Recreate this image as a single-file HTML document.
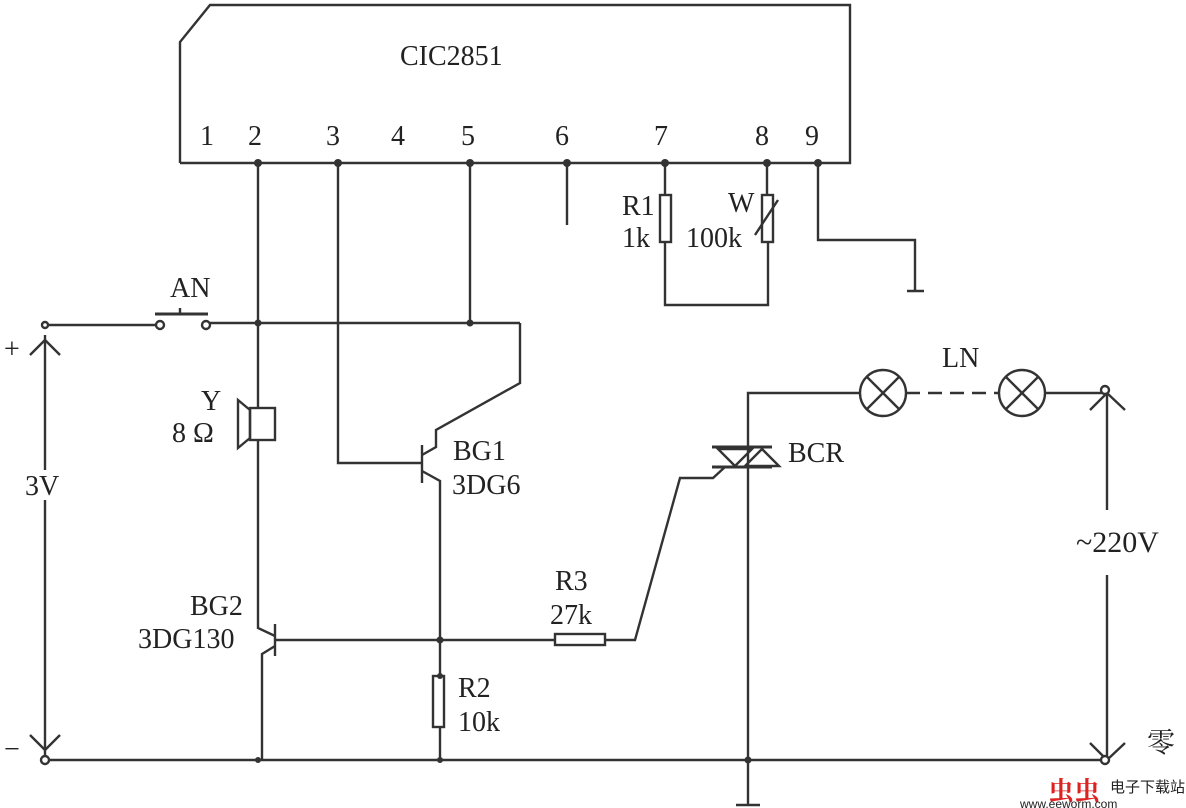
<!DOCTYPE html>
<html><head><style>html,body{margin:0;padding:0;background:#fff}svg{display:block}text{font-family:"Liberation Serif","Noto Serif CJK SC",serif;fill:#222}</style></head>
<body>
<svg width="1186" height="808" viewBox="0 0 1186 808" xmlns="http://www.w3.org/2000/svg">
<g stroke="#333" stroke-width="2.4" fill="none">
<polyline points="180,163 180,42 210,5 850,5 850,163 180,163"/>
<line x1="258" y1="163" x2="258" y2="408"/>
<line x1="258" y1="440" x2="258" y2="625"/>
<polyline points="258,625 258,628 275,636"/>
<polyline points="275,646 262,654 262,760"/>
<line x1="275" y1="624" x2="275" y2="656"/>
<polyline points="338,163 338,463 422,463"/>
<line x1="422" y1="445" x2="422" y2="483"/>
<polyline points="422,455 436,447 436,430 520,383 520,323"/>
<polyline points="422,471 440,481 440,676"/>
<line x1="470" y1="163" x2="470" y2="323"/>
<line x1="567" y1="163" x2="567" y2="225"/>
<line x1="665" y1="163" x2="665" y2="195"/>
<rect x="660" y="195" width="11" height="47"/>
<polyline points="665,242 665,305 768,305 768,242"/>
<line x1="767" y1="163" x2="767" y2="195"/>
<rect x="762" y="195" width="11" height="47"/>
<line x1="755" y1="235" x2="778" y2="200"/>
<polyline points="818,163 818,240 915,240 915,290"/>
<line x1="907" y1="291" x2="924" y2="291"/>
<polyline points="45,325 158,325"/>
<line x1="210" y1="323" x2="520" y2="323"/>
<line x1="155" y1="314" x2="208" y2="314" stroke-width="3"/>
<line x1="180" y1="308" x2="180" y2="314"/>
<rect x="250" y="408" width="25" height="32"/>
<polygon points="250,410 250,438 238,448 238,400"/>
<rect x="433" y="676" width="11" height="51"/>
<line x1="440" y1="727" x2="440" y2="760"/>
<line x1="275" y1="640" x2="555" y2="640"/>
<rect x="555" y="634" width="50" height="11"/>
<polyline points="605,640 635,640 680,478 713,478 725,467"/>
<line x1="45" y1="760" x2="1103" y2="760"/>
<polyline points="748,805 748,393 860,393"/>
<line x1="736" y1="805" x2="760" y2="805"/>
<line x1="712" y1="447" x2="772" y2="447" stroke-width="3"/>
<line x1="712" y1="467" x2="772" y2="467" stroke-width="3"/>
<polygon points="718,449 752,449 735,466"/>
<polygon points="745,466 779,466 762,449"/>
<circle cx="883" cy="393" r="23"/>
<line x1="867" y1="377" x2="899" y2="409"/><line x1="899" y1="377" x2="867" y2="409"/>
<circle cx="1022" cy="393" r="23"/>
<line x1="1006" y1="377" x2="1038" y2="409"/><line x1="1038" y1="377" x2="1006" y2="409"/>
<line x1="906" y1="393" x2="999" y2="393" stroke-dasharray="14,8"/>
<line x1="1045" y1="393" x2="1103" y2="393"/>
<line x1="1107" y1="393" x2="1107" y2="510"/>
<line x1="1107" y1="575" x2="1107" y2="760"/>
<polyline points="1090,410 1107,393 1125,410"/>
<polyline points="1090,743 1107,760 1125,743"/>
<circle cx="1105" cy="390" r="4" fill="#fff"/>
<circle cx="1105" cy="760" r="4" fill="#fff"/>
<line x1="45" y1="335" x2="45" y2="470"/>
<line x1="45" y1="500" x2="45" y2="755"/>
<polyline points="30,355 45,340 60,355"/>
<polyline points="30,735 45,750 60,735"/>
<circle cx="45" cy="760" r="4" fill="#fff"/>
<circle cx="45" cy="325" r="3" fill="#fff"/>
<circle cx="160" cy="325" r="4" fill="#fff"/>
<circle cx="206" cy="325" r="4" fill="#fff"/>
</g>
<g fill="#333">
<circle cx="258" cy="163" r="4"/><circle cx="338" cy="163" r="4"/><circle cx="470" cy="163" r="4"/>
<circle cx="567" cy="163" r="4"/><circle cx="665" cy="163" r="4"/><circle cx="767" cy="163" r="4"/><circle cx="818" cy="163" r="4"/>
<circle cx="258" cy="323" r="3.5"/><circle cx="470" cy="323" r="3.5"/><circle cx="440" cy="640" r="3.5"/>
<circle cx="440" cy="676" r="3"/><circle cx="258" cy="760" r="3"/><circle cx="440" cy="760" r="3"/><circle cx="748" cy="760" r="3.5"/>
</g>
<g font-size="28">
<text x="400" y="65">CIC2851</text>
<text x="200" y="145">1</text><text x="248" y="145">2</text><text x="326" y="145">3</text><text x="391" y="145">4</text>
<text x="461" y="145">5</text><text x="555" y="145">6</text><text x="654" y="145">7</text><text x="755" y="145">8</text><text x="805" y="145">9</text>
<text x="622" y="215">R1</text><text x="622" y="247">1k</text>
<text x="728" y="212">W</text><text x="686" y="247">100k</text>
<text x="170" y="297">AN</text>
<text x="4" y="358">+</text><text x="4" y="758">−</text>
<text x="25" y="495">3V</text>
<text x="201" y="410">Y</text><text x="172" y="442">8 Ω</text>
<text x="453" y="460">BG1</text><text x="452" y="494">3DG6</text>
<text x="190" y="615">BG2</text><text x="138" y="648">3DG130</text>
<text x="555" y="590">R3</text><text x="550" y="624">27k</text>
<text x="458" y="697">R2</text><text x="458" y="731">10k</text>
<text x="942" y="367">LN</text>
<text x="788" y="462">BCR</text>
<text x="1076" y="552" font-size="30">~220V</text>
<text x="1147" y="752">零</text>
</g>
<text x="1048" y="800" font-size="26" style="fill:#d22;font-weight:bold">虫虫</text>
<text x="1110" y="792" font-size="15" style="font-family:'Noto Sans CJK SC',sans-serif">电子下载站</text>
<text x="1020" y="808" font-size="12" style="font-family:'Liberation Sans',sans-serif">www.eeworm.com</text>
</svg>
</body></html>
